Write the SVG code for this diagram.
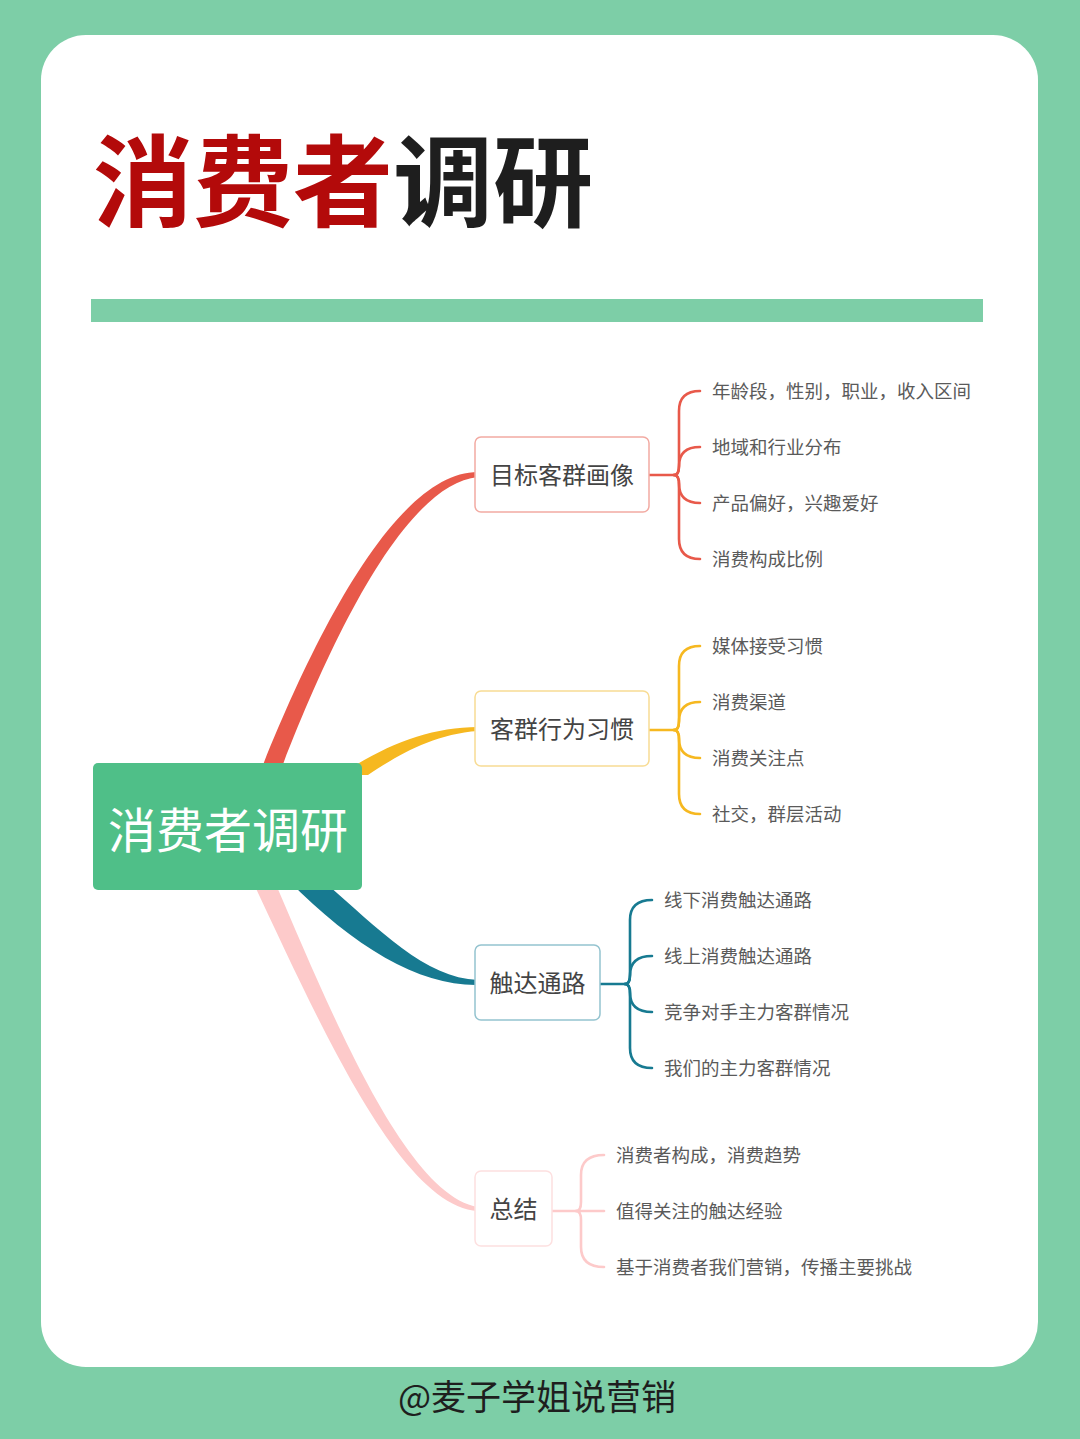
<svg xmlns="http://www.w3.org/2000/svg" width="1080" height="1439" viewBox="0 0 1080 1439">
<style>
text{font-family:"Noto Sans CJK SC","Noto Sans",sans-serif}
.title{font-size:100px;font-weight:700}
.root-t{font-size:48px;fill:#ffffff;text-anchor:middle}
.br-t{font-size:24px;fill:#444444;text-anchor:middle}
.leaf{font-size:18.5px;fill:#5a5a5a}
.node{fill:#ffffff;stroke-width:1.5}
.brk{fill:none;stroke-width:2.6;stroke-linecap:round}
</style>
<rect x="0" y="0" width="1080" height="1439" fill="#7dcea7"/>
<rect x="41" y="35" width="997" height="1332" rx="45" fill="#ffffff"/>
<text class="title" x="93" y="219"><tspan fill="#b30a0a">消费者</tspan><tspan fill="#1e1e1e">调研</tspan></text>
<rect x="91" y="299" width="892" height="23" fill="#7dcea7"/>

<g id="connectors">
  <path d="M257,780 C312,640 395,472 478,472 L478,477 C405,484 330,640 277,780 Z" fill="#e8594a"/>
  <path d="M340,775 C385,745 430,727 478,727 L478,731 C432,734 395,757 368,775 Z" fill="#f6b820"/>
  <path d="M322,880 C380,930 425,978 478,980 L478,985 C420,986 355,948 288,880 Z" fill="#177a91"/>
  <path d="M274,880 C330,1010 405,1195 478,1207 L478,1211 C400,1207 318,1020 252,880 Z" fill="#fdcaca"/>
  <g stroke="#e8594a" class="brk">
    <path class="brk" d="M649,475 H674"/>
    <path class="brk" d="M674,475 Q679,475 679,466 L679,411 Q679,391 700,391"/>
    <path class="brk" d="M674,475 Q679,475 679,466 Q679,447 700,447"/>
    <path class="brk" d="M674,475 Q679,475 679,484 Q679,503 700,503"/>
    <path class="brk" d="M674,475 Q679,475 679,484 L679,539 Q679,559 700,559"/>
  </g>
  <g stroke="#f6b820" class="brk">
    <path class="brk" d="M649,730 H674"/>
    <path class="brk" d="M674,730 Q679,730 679,721 L679,666 Q679,646 700,646"/>
    <path class="brk" d="M674,730 Q679,730 679,721 Q679,702 700,702"/>
    <path class="brk" d="M674,730 Q679,730 679,739 Q679,758 700,758"/>
    <path class="brk" d="M674,730 Q679,730 679,739 L679,794 Q679,814 700,814"/>
  </g>
  <g stroke="#177a91" class="brk">
    <path class="brk" d="M600,984 H625"/>
    <path class="brk" d="M625,984 Q630,984 630,975 L630,920 Q630,900 652,900"/>
    <path class="brk" d="M625,984 Q630,984 630,975 Q630,956 652,956"/>
    <path class="brk" d="M625,984 Q630,984 630,993 Q630,1012 652,1012"/>
    <path class="brk" d="M625,984 Q630,984 630,993 L630,1048 Q630,1068 652,1068"/>
  </g>
  <g stroke="#fdcaca" class="brk">
    <path class="brk" d="M552,1211 H604"/>
    <path class="brk" d="M576,1211 Q581,1211 581,1202 L581,1175 Q581,1155 604,1155"/>
    <path class="brk" d="M576,1211 Q581,1211 581,1220 L581,1247 Q581,1267 604,1267"/>
  </g>
</g>

<g id="root">
  <rect x="93" y="763" width="269" height="127" rx="5" fill="#4fbf88"/>
  <text class="root-t" x="228" y="848">消费者调研</text>
</g>

<g id="n1">
  <rect class="node" x="475" y="437" width="174" height="75" rx="6" stroke="#f2aaa2"/>
  <text class="br-t" x="562" y="484">目标客群画像</text>
</g>
<g id="n1-leaves">
  <text class="leaf" x="712" y="398">年龄段，性别，职业，收入区间</text>
  <text class="leaf" x="712" y="454">地域和行业分布</text>
  <text class="leaf" x="712" y="510">产品偏好，兴趣爱好</text>
  <text class="leaf" x="712" y="566">消费构成比例</text>
</g>

<g id="n2">
  <rect class="node" x="475" y="691" width="174" height="75" rx="6" stroke="#f8dc94"/>
  <text class="br-t" x="562" y="738">客群行为习惯</text>
</g>
<g id="n2-leaves">
  <text class="leaf" x="712" y="653">媒体接受习惯</text>
  <text class="leaf" x="712" y="709">消费渠道</text>
  <text class="leaf" x="712" y="765">消费关注点</text>
  <text class="leaf" x="712" y="821">社交，群层活动</text>
</g>

<g id="n3">
  <rect class="node" x="475" y="945" width="125" height="75" rx="6" stroke="#94c3cf"/>
  <text class="br-t" x="537.5" y="992">触达通路</text>
</g>
<g id="n3-leaves">
  <text class="leaf" x="664" y="907">线下消费触达通路</text>
  <text class="leaf" x="664" y="963">线上消费触达通路</text>
  <text class="leaf" x="664" y="1019">竞争对手主力客群情况</text>
  <text class="leaf" x="664" y="1075">我们的主力客群情况</text>
</g>

<g id="n4">
  <rect class="node" x="475" y="1171" width="77" height="75" rx="6" stroke="#fde0e0"/>
  <text class="br-t" x="513.5" y="1218">总结</text>
</g>
<g id="n4-leaves">
  <text class="leaf" x="616" y="1162">消费者构成，消费趋势</text>
  <text class="leaf" x="616" y="1218">值得关注的触达经验</text>
  <text class="leaf" x="616" y="1274">基于消费者我们营销，传播主要挑战</text>
</g>

<text x="398" y="1410" font-size="35" fill="#1e1e1e">@麦子学姐说营销</text>
</svg>
